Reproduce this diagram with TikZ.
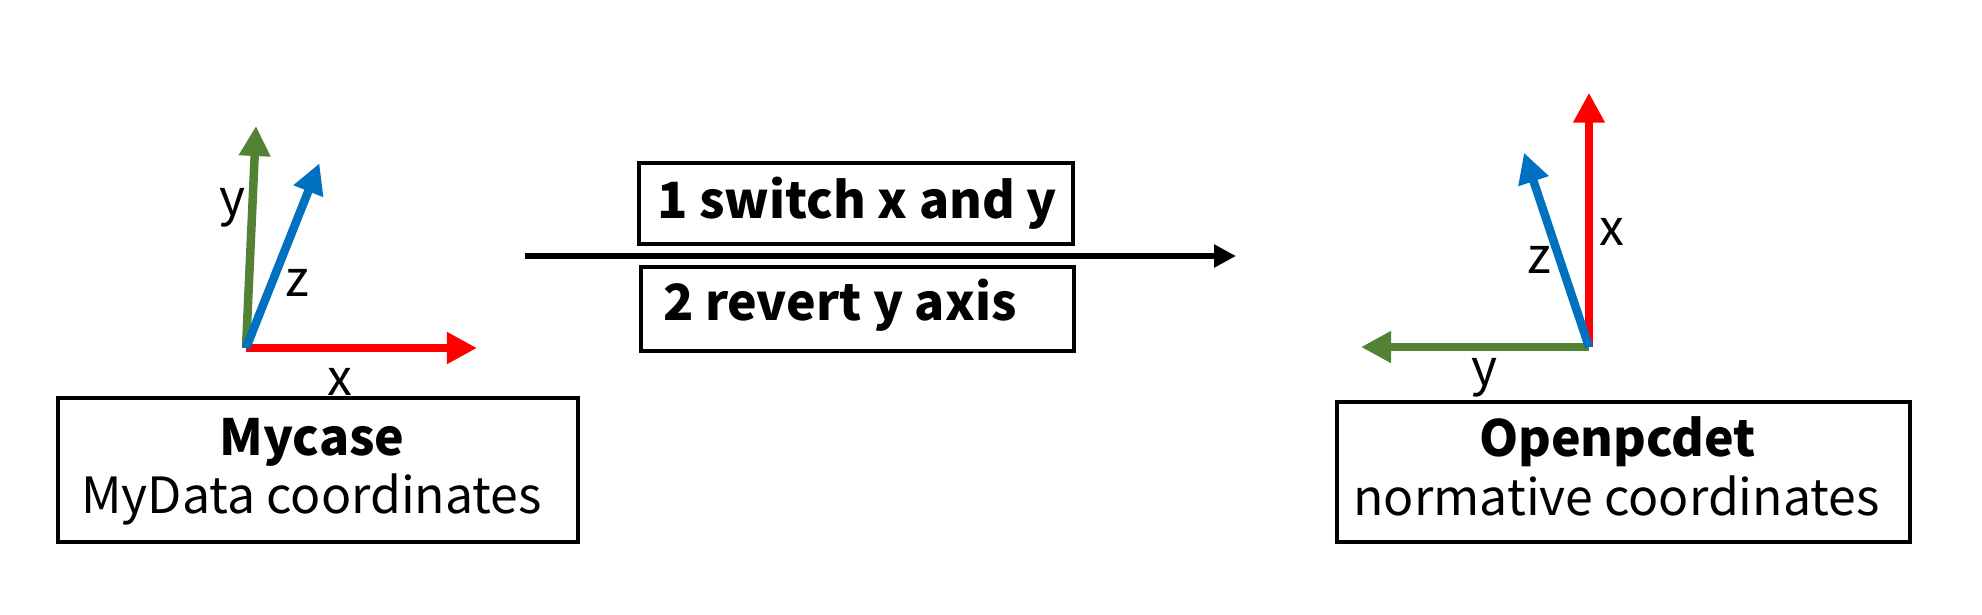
\documentclass[tikz,border=0pt]{standalone}
\usepackage{fontspec}
\setmainfont{Noto Sans CJK JP}
\usetikzlibrary{arrows.meta}
\definecolor{axred}{HTML}{FF0000}
\definecolor{axgreen}{HTML}{548235}
\definecolor{axblue}{HTML}{0070C0}
\tikzset{
  box/.style={draw=black, line width=0.045cm, minimum width=#1, inner sep=0pt, fill=none},
  axis/.style={line width=0.085cm, -{Triangle[length=0.3cm, width=0.3cm]}},
  lbl/.style={inner sep=0pt, font=\fontsize{14.2pt}{17pt}\selectfont},
  btxt/.style={inner sep=0pt, font=\fontsize{14.2pt}{17pt}\selectfont\bfseries},
  rtxt/.style={inner sep=0pt, font=\fontsize{14.2pt}{17pt}\selectfont},
  flow/.style={line width=0.055cm, -{Triangle[length=0.22cm, width=0.22cm]}}
}
\begin{document}
\begin{tikzpicture}[x=0.01cm, y=-0.01cm]
\useasboundingbox (0,0) rectangle (1982,614);
% boxes
\node[box=5.195cm, minimum height=1.44cm] (lbox) at (318,470) {};
\node[box=5.73cm, minimum height=1.40cm] (rbox) at (1623.5,472) {};
\node[box=4.34cm, minimum height=0.81cm] (s1) at (856,203.5) {};
\node[box=4.33cm, minimum height=0.84cm] (s2) at (857.5,309) {};
% box texts
\node[btxt, anchor=base] (mycase) at (312,455) {Mycase};
\node[rtxt, anchor=base] (mydata) at (311.5,513) {MyData coordinates};
\node[btxt, anchor=base] (openp) at (1617.5,456.7) {Openpcdet};
\node[rtxt, anchor=base] (norm) at (1616.5,515) {normative coordinates};
\node[btxt, anchor=base] (t1) at (857,218.3) {1 switch x and y};
\node[btxt, anchor=base west] (t2) at (662.5,320) {2 revert y axis};
% main arrow
\coordinate (fs) at (524.6,256);
\coordinate (fe) at (1236,256);
\draw[flow] (fs) -- (fe);
% left axes
\coordinate (o1) at (246,348);
\coordinate (lx) at (477,348);
\coordinate (ly) at (256,126);
\coordinate (lz) at (319.4,163.3);
\draw[axis, axred] (o1) -- (lx);
\draw[axis, axgreen] (o1) -- (ly);
\draw[axis, axblue] (o1) -- (lz);
\node[lbl] (lyl) at (233,208) {y};
\node[lbl] (lzl) at (297,283) {z};
\node[lbl] (lxl) at (340,382) {x};
% right axes
\coordinate (o2) at (1589,347);
\coordinate (rx) at (1589,92.7);
\coordinate (rz) at (1524,152.7);
\coordinate (ry) at (1361,347);
\draw[axis, axred] (o2) -- (rx);
\draw[axis, axgreen] (o2) -- (ry);
\draw[axis, axblue] (o2) -- (rz);
\node[lbl] (rxl) at (1611.7,231.7) {x};
\node[lbl] (rzl) at (1539.7,260) {z};
\node[lbl] (ryl) at (1484,378) {y};
\end{tikzpicture}
\end{document}
